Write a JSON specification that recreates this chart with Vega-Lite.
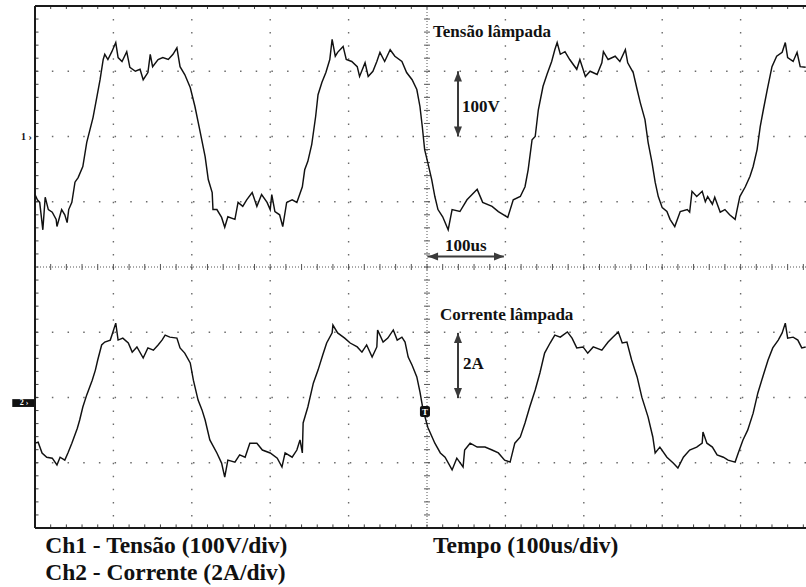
{
  "$schema": "https://vega.github.io/schema/vega-lite/v6.json",
  "width": 771,
  "height": 522,
  "autosize": {"type": "none"},
  "padding": {"left": 35, "top": 6, "right": 0, "bottom": 59},
  "background": "white",
  "config": {"view": {"stroke": null}},
  "resolve": {"scale": {"y": "independent"}},
  "data": {"values": [{}]},
  "datasets": {
    "ch1": [
      {"t":-500,"v":-89},{"t":-497,"v":-97},{"t":-494,"v":-101},{"t":-490,"v":-143},{"t":-487,"v":-93},{"t":-483,"v":-112},{"t":-478,"v":-116},{"t":-473,"v":-127},{"t":-472,"v":-138},{"t":-466,"v":-112},{"t":-462,"v":-120},{"t":-459,"v":-132},{"t":-457,"v":-112},{"t":-453,"v":-101},{"t":-449,"v":-70},{"t":-445,"v":-63},{"t":-439,"v":-46},{"t":-434,"v":-9},{"t":-426,"v":29},{"t":-421,"v":61},{"t":-417,"v":87},{"t":-413,"v":118},{"t":-411,"v":126},{"t":-407,"v":118},{"t":-402,"v":130},{"t":-397,"v":144},{"t":-394,"v":121},{"t":-389,"v":115},{"t":-383,"v":130},{"t":-379,"v":106},{"t":-372,"v":100},{"t":-366,"v":103},{"t":-362,"v":87},{"t":-356,"v":98},{"t":-353,"v":126},{"t":-350,"v":107},{"t":-343,"v":118},{"t":-337,"v":121},{"t":-330,"v":118},{"t":-324,"v":126},{"t":-319,"v":136},{"t":-315,"v":107},{"t":-309,"v":95},{"t":-302,"v":75},{"t":-296,"v":46},{"t":-290,"v":11},{"t":-283,"v":-31},{"t":-279,"v":-66},{"t":-274,"v":-86},{"t":-273,"v":-112},{"t":-268,"v":-112},{"t":-262,"v":-124},{"t":-258,"v":-139},{"t":-254,"v":-123},{"t":-245,"v":-127},{"t":-241,"v":-101},{"t":-235,"v":-107},{"t":-230,"v":-97},{"t":-223,"v":-86},{"t":-217,"v":-107},{"t":-211,"v":-89},{"t":-204,"v":-101},{"t":-200,"v":-112},{"t":-198,"v":-89},{"t":-194,"v":-115},{"t":-188,"v":-120},{"t":-184,"v":-138},{"t":-179,"v":-101},{"t":-172,"v":-97},{"t":-166,"v":-101},{"t":-159,"v":-77},{"t":-156,"v":-51},{"t":-152,"v":-38},{"t":-147,"v":-12},{"t":-142,"v":31},{"t":-139,"v":64},{"t":-134,"v":83},{"t":-129,"v":98},{"t":-124,"v":118},{"t":-121,"v":149},{"t":-117,"v":123},{"t":-114,"v":129},{"t":-107,"v":138},{"t":-103,"v":118},{"t":-96,"v":115},{"t":-89,"v":107},{"t":-86,"v":92},{"t":-79,"v":113},{"t":-75,"v":92},{"t":-69,"v":100},{"t":-64,"v":115},{"t":-60,"v":129},{"t":-54,"v":115},{"t":-47,"v":133},{"t":-41,"v":123},{"t":-32,"v":115},{"t":-26,"v":98},{"t":-19,"v":87},{"t":-13,"v":72},{"t":-9,"v":46},{"t":-6,"v":15},{"t":-3,"v":-20},{"t":1,"v":-40},{"t":6,"v":-66},{"t":10,"v":-92},{"t":14,"v":-112},{"t":20,"v":-123},{"t":27,"v":-143},{"t":32,"v":-112},{"t":42,"v":-115},{"t":51,"v":-97},{"t":64,"v":-81},{"t":71,"v":-101},{"t":83,"v":-107},{"t":91,"v":-115},{"t":103,"v":-124},{"t":110,"v":-97},{"t":119,"v":-92},{"t":125,"v":-77},{"t":129,"v":-51},{"t":134,"v":-5},{"t":138,"v":0},{"t":142,"v":41},{"t":148,"v":77},{"t":153,"v":95},{"t":159,"v":115},{"t":163,"v":133},{"t":166,"v":144},{"t":170,"v":126},{"t":176,"v":130},{"t":182,"v":118},{"t":191,"v":103},{"t":195,"v":118},{"t":202,"v":92},{"t":208,"v":100},{"t":217,"v":95},{"t":223,"v":113},{"t":225,"v":130},{"t":231,"v":118},{"t":240,"v":123},{"t":246,"v":115},{"t":253,"v":133},{"t":256,"v":113},{"t":263,"v":98},{"t":268,"v":72},{"t":272,"v":52},{"t":278,"v":26},{"t":282,"v":-9},{"t":287,"v":-40},{"t":291,"v":-70},{"t":295,"v":-92},{"t":300,"v":-109},{"t":306,"v":-115},{"t":310,"v":-127},{"t":316,"v":-138},{"t":323,"v":-115},{"t":332,"v":-112},{"t":335,"v":-116},{"t":338,"v":-84},{"t":344,"v":-92},{"t":351,"v":-84},{"t":355,"v":-100},{"t":358,"v":-92},{"t":364,"v":-104},{"t":367,"v":-93},{"t":374,"v":-116},{"t":380,"v":-112},{"t":386,"v":-120},{"t":393,"v":-127},{"t":395,"v":-115},{"t":399,"v":-92},{"t":406,"v":-77},{"t":412,"v":-61},{"t":416,"v":-46},{"t":421,"v":-20},{"t":425,"v":15},{"t":429,"v":41},{"t":434,"v":72},{"t":440,"v":107},{"t":446,"v":123},{"t":453,"v":129},{"t":457,"v":144},{"t":460,"v":121},{"t":467,"v":115},{"t":472,"v":129},{"t":476,"v":107},{"t":483,"v":106}
    ],
    "ch2": [
      {"t":-500,"i":-1.23},{"t":-496,"i":-1.20},{"t":-491,"i":-1.53},{"t":-485,"i":-1.66},{"t":-478,"i":-1.69},{"t":-472,"i":-1.90},{"t":-468,"i":-1.66},{"t":-462,"i":-1.75},{"t":-458,"i":-1.53},{"t":-453,"i":-1.23},{"t":-446,"i":-0.77},{"t":-443,"i":-0.52},{"t":-439,"i":-0.12},{"t":-434,"i":0.25},{"t":-427,"i":0.70},{"t":-423,"i":1.01},{"t":-420,"i":1.32},{"t":-415,"i":1.78},{"t":-411,"i":1.87},{"t":-404,"i":1.93},{"t":-401,"i":2.15},{"t":-397,"i":2.45},{"t":-394,"i":1.93},{"t":-388,"i":1.99},{"t":-381,"i":1.84},{"t":-376,"i":1.56},{"t":-370,"i":1.72},{"t":-362,"i":1.38},{"t":-356,"i":1.69},{"t":-349,"i":1.62},{"t":-343,"i":1.78},{"t":-338,"i":1.93},{"t":-334,"i":2.08},{"t":-328,"i":2.02},{"t":-319,"i":1.99},{"t":-315,"i":1.69},{"t":-309,"i":1.53},{"t":-302,"i":1.23},{"t":-298,"i":0.70},{"t":-292,"i":0.09},{"t":-287,"i":-0.21},{"t":-283,"i":-0.52},{"t":-277,"i":-1.13},{"t":-268,"i":-1.53},{"t":-262,"i":-1.84},{"t":-258,"i":-2.27},{"t":-254,"i":-1.75},{"t":-245,"i":-1.81},{"t":-239,"i":-1.59},{"t":-232,"i":-1.66},{"t":-226,"i":-1.23},{"t":-217,"i":-1.23},{"t":-210,"i":-1.44},{"t":-200,"i":-1.53},{"t":-191,"i":-1.69},{"t":-185,"i":-1.96},{"t":-181,"i":-1.53},{"t":-172,"i":-1.66},{"t":-166,"i":-1.44},{"t":-162,"i":-1.13},{"t":-159,"i":-1.53},{"t":-158,"i":-0.61},{"t":-152,"i":-0.12},{"t":-145,"i":0.61},{"t":-139,"i":1.01},{"t":-133,"i":1.47},{"t":-128,"i":1.84},{"t":-121,"i":2.15},{"t":-120,"i":2.39},{"t":-114,"i":2.15},{"t":-105,"i":1.99},{"t":-98,"i":1.84},{"t":-89,"i":1.72},{"t":-83,"i":1.56},{"t":-77,"i":1.78},{"t":-70,"i":1.41},{"t":-64,"i":1.72},{"t":-63,"i":2.24},{"t":-56,"i":1.87},{"t":-50,"i":1.99},{"t":-43,"i":2.24},{"t":-38,"i":1.93},{"t":-32,"i":2.02},{"t":-28,"i":1.87},{"t":-24,"i":1.41},{"t":-19,"i":1.16},{"t":-13,"i":0.80},{"t":-9,"i":0.34},{"t":-5,"i":-0.21},{"t":1,"i":-0.74},{"t":10,"i":-1.23},{"t":17,"i":-1.53},{"t":23,"i":-1.66},{"t":32,"i":-2.05},{"t":38,"i":-1.69},{"t":46,"i":-1.96},{"t":48,"i":-1.44},{"t":55,"i":-1.23},{"t":64,"i":-1.35},{"t":74,"i":-1.35},{"t":83,"i":-1.44},{"t":91,"i":-1.53},{"t":99,"i":-1.75},{"t":106,"i":-1.81},{"t":112,"i":-1.23},{"t":119,"i":-1.04},{"t":125,"i":-0.61},{"t":131,"i":-0.12},{"t":138,"i":0.40},{"t":144,"i":0.92},{"t":150,"i":1.53},{"t":157,"i":1.84},{"t":163,"i":2.08},{"t":170,"i":2.02},{"t":179,"i":2.18},{"t":185,"i":1.99},{"t":191,"i":1.69},{"t":199,"i":1.72},{"t":205,"i":1.53},{"t":212,"i":1.72},{"t":223,"i":1.62},{"t":231,"i":1.87},{"t":237,"i":2.02},{"t":244,"i":2.18},{"t":249,"i":1.84},{"t":255,"i":1.87},{"t":261,"i":1.32},{"t":268,"i":0.80},{"t":274,"i":0.18},{"t":282,"i":-0.43},{"t":288,"i":-1.04},{"t":291,"i":-1.53},{"t":297,"i":-1.35},{"t":306,"i":-1.66},{"t":314,"i":-1.84},{"t":320,"i":-1.99},{"t":327,"i":-1.66},{"t":335,"i":-1.44},{"t":344,"i":-1.35},{"t":351,"i":-1.23},{"t":352,"i":-0.89},{"t":357,"i":-1.23},{"t":364,"i":-1.35},{"t":370,"i":-1.59},{"t":378,"i":-1.66},{"t":384,"i":-1.75},{"t":393,"i":-1.81},{"t":397,"i":-1.53},{"t":403,"i":-1.13},{"t":409,"i":-0.83},{"t":416,"i":-0.31},{"t":422,"i":0.31},{"t":429,"i":0.86},{"t":435,"i":1.32},{"t":441,"i":1.69},{"t":448,"i":1.93},{"t":453,"i":2.15},{"t":457,"i":2.45},{"t":460,"i":1.99},{"t":467,"i":2.02},{"t":473,"i":1.93},{"t":478,"i":1.69},{"t":483,"i":1.72}
    ],
    "timeDivs": [{"t":-400},{"t":-300},{"t":-200},{"t":-100},{"t":100},{"t":200},{"t":300},{"t":400}],
    "voltDivs": [{"v":-500},{"v":-400},{"v":-300},{"v":-100},{"v":0},{"v":100}],
    "timeMinor": [{"t":-500},{"t":-480},{"t":-460},{"t":-440},{"t":-420},{"t":-400},{"t":-380},{"t":-360},{"t":-340},{"t":-320},{"t":-300},{"t":-280},{"t":-260},{"t":-240},{"t":-220},{"t":-200},{"t":-180},{"t":-160},{"t":-140},{"t":-120},{"t":-100},{"t":-80},{"t":-60},{"t":-40},{"t":-20},{"t":0},{"t":20},{"t":40},{"t":60},{"t":80},{"t":100},{"t":120},{"t":140},{"t":160},{"t":180},{"t":200},{"t":220},{"t":240},{"t":260},{"t":280},{"t":300},{"t":320},{"t":340},{"t":360},{"t":380},{"t":400},{"t":420},{"t":440},{"t":460},{"t":480}],
    "voltMinor": [{"v":-600},{"v":-580},{"v":-560},{"v":-540},{"v":-520},{"v":-500},{"v":-480},{"v":-460},{"v":-440},{"v":-420},{"v":-400},{"v":-380},{"v":-360},{"v":-340},{"v":-320},{"v":-300},{"v":-280},{"v":-260},{"v":-240},{"v":-220},{"v":-200},{"v":-180},{"v":-160},{"v":-140},{"v":-120},{"v":-100},{"v":-80},{"v":-60},{"v":-40},{"v":-20},{"v":0},{"v":20},{"v":40},{"v":60},{"v":80},{"v":100},{"v":120},{"v":140},{"v":160},{"v":180},{"v":200}]
  },
  "layer": [
    {
      "data": {"name": "timeDivs"},
      "mark": {"type": "rule", "color": "#6a6a6a", "strokeWidth": 1.4, "strokeDash": [1.5, 11.55]},
      "encoding": {"x": {"field": "t", "type": "quantitative", "scale": {"domain": [-500, 483.4], "nice": false, "zero": false}, "axis": null}}
    },
    {
      "data": {"name": "voltDivs"},
      "mark": {"type": "rule", "color": "#6a6a6a", "strokeWidth": 1.4, "strokeDash": [1.5, 14.18]},
      "encoding": {"y": {"field": "v", "type": "quantitative", "scale": {"domain": [-600, 200], "nice": false, "zero": false}, "axis": null}}
    },
    {
      "mark": {"type": "rule", "color": "#555", "strokeWidth": 1, "strokeDash": [1, 2]},
      "encoding": {"x": {"datum": 0, "type": "quantitative", "scale": {"domain": [-500, 483.4], "nice": false, "zero": false}, "axis": null}}
    },
    {
      "mark": {"type": "rule", "color": "#555", "strokeWidth": 1, "strokeDash": [1, 2]},
      "encoding": {"y": {"datum": -200, "type": "quantitative", "scale": {"domain": [-600, 200], "nice": false, "zero": false}, "axis": null}}
    },
    {
      "data": {"name": "timeMinor"},
      "mark": {"type": "rule", "color": "#444", "strokeWidth": 1},
      "encoding": {
        "x": {"field": "t", "type": "quantitative", "scale": {"domain": [-500, 483.4], "nice": false, "zero": false}, "axis": null},
        "y": {"datum": 200, "type": "quantitative", "scale": {"domain": [-600, 200], "nice": false, "zero": false}, "axis": null},
        "y2": {"datum": 195.4}
      }
    },
    {
      "data": {"name": "timeMinor"},
      "mark": {"type": "rule", "color": "#444", "strokeWidth": 1},
      "encoding": {
        "x": {"field": "t", "type": "quantitative", "scale": {"domain": [-500, 483.4], "nice": false, "zero": false}, "axis": null},
        "y": {"datum": -600, "type": "quantitative", "scale": {"domain": [-600, 200], "nice": false, "zero": false}, "axis": null},
        "y2": {"datum": -594.5}
      }
    },
    {
      "data": {"name": "timeMinor"},
      "mark": {"type": "rule", "color": "#555", "strokeWidth": 1},
      "encoding": {
        "x": {"field": "t", "type": "quantitative", "scale": {"domain": [-500, 483.4], "nice": false, "zero": false}, "axis": null},
        "y": {"datum": -204.6, "type": "quantitative", "scale": {"domain": [-600, 200], "nice": false, "zero": false}, "axis": null},
        "y2": {"datum": -195.4}
      }
    },
    {
      "data": {"name": "voltMinor"},
      "mark": {"type": "rule", "color": "#444", "strokeWidth": 1},
      "encoding": {
        "x": {"datum": -500, "type": "quantitative", "scale": {"domain": [-500, 483.4], "nice": false, "zero": false}, "axis": null},
        "x2": {"datum": -495.5},
        "y": {"field": "v", "type": "quantitative", "scale": {"domain": [-600, 200], "nice": false, "zero": false}, "axis": null}
      }
    },
    {
      "data": {"name": "voltMinor"},
      "mark": {"type": "rule", "color": "#555", "strokeWidth": 1},
      "encoding": {
        "x": {"datum": -3.8, "type": "quantitative", "scale": {"domain": [-500, 483.4], "nice": false, "zero": false}, "axis": null},
        "x2": {"datum": 3.8},
        "y": {"field": "v", "type": "quantitative", "scale": {"domain": [-600, 200], "nice": false, "zero": false}, "axis": null}
      }
    },
    {
      "mark": {"type": "rule", "color": "#1a1a1a", "strokeWidth": 2},
      "encoding": {"x": {"datum": -500, "type": "quantitative", "scale": {"domain": [-500, 483.4], "nice": false, "zero": false}, "axis": null}}
    },
    {
      "mark": {"type": "rule", "color": "#1a1a1a", "strokeWidth": 2},
      "encoding": {"y": {"datum": 200, "type": "quantitative", "scale": {"domain": [-600, 200], "nice": false, "zero": false}, "axis": null}}
    },
    {
      "mark": {"type": "rule", "color": "#1a1a1a", "strokeWidth": 2},
      "encoding": {"y": {"datum": -600, "type": "quantitative", "scale": {"domain": [-600, 200], "nice": false, "zero": false}, "axis": null}}
    },
    {
      "data": {"name": "ch1"},
      "mark": {"type": "line", "color": "#111", "strokeWidth": 1.45, "strokeJoin": "miter"},
      "encoding": {
        "x": {"field": "t", "type": "quantitative", "scale": {"domain": [-500, 483.4], "nice": false, "zero": false}, "axis": null},
        "y": {"field": "v", "type": "quantitative", "scale": {"domain": [-600, 200], "nice": false, "zero": false}, "axis": null}
      }
    },
    {
      "data": {"name": "ch2"},
      "mark": {"type": "line", "color": "#111", "strokeWidth": 1.45, "strokeJoin": "miter"},
      "encoding": {
        "x": {"field": "t", "type": "quantitative", "scale": {"domain": [-500, 483.4], "nice": false, "zero": false}, "axis": null},
        "y": {"field": "i", "type": "quantitative", "scale": {"domain": [-3.83, 12.17], "nice": false, "zero": false}, "axis": null}
      }
    },
    {
      "mark": {"type": "rule", "color": "#3a3a3a", "strokeWidth": 2},
      "encoding": {
        "x": {"datum": 39.5, "type": "quantitative", "scale": {"domain": [-500, 483.4], "nice": false, "zero": false}, "axis": null},
        "y": {"datum": 0, "type": "quantitative", "scale": {"domain": [-600, 200], "nice": false, "zero": false}, "axis": null},
        "y2": {"datum": 100}
      }
    },
    {
      "mark": {"type": "point", "shape": "M0,-1L-0.8,1L0.8,1Z", "size": 100, "filled": true, "color": "#3a3a3a", "opacity": 1},
      "encoding": {
        "x": {"datum": 39.5, "type": "quantitative", "scale": {"domain": [-500, 483.4], "nice": false, "zero": false}, "axis": null},
        "y": {"datum": 92, "type": "quantitative", "scale": {"domain": [-600, 200], "nice": false, "zero": false}, "axis": null}
      }
    },
    {
      "mark": {"type": "point", "shape": "M0,1L-0.8,-1L0.8,-1Z", "size": 100, "filled": true, "color": "#3a3a3a", "opacity": 1},
      "encoding": {
        "x": {"datum": 39.5, "type": "quantitative", "scale": {"domain": [-500, 483.4], "nice": false, "zero": false}, "axis": null},
        "y": {"datum": 7.7, "type": "quantitative", "scale": {"domain": [-600, 200], "nice": false, "zero": false}, "axis": null}
      }
    },
    {
      "mark": {"type": "rule", "color": "#3a3a3a", "strokeWidth": 2},
      "encoding": {
        "x": {"datum": 0.5, "type": "quantitative", "scale": {"domain": [-500, 483.4], "nice": false, "zero": false}, "axis": null},
        "x2": {"datum": 98},
        "y": {"datum": -184, "type": "quantitative", "scale": {"domain": [-600, 200], "nice": false, "zero": false}, "axis": null}
      }
    },
    {
      "mark": {"type": "point", "shape": "M-1,0L1,-0.8L1,0.8Z", "size": 100, "filled": true, "color": "#3a3a3a", "opacity": 1},
      "encoding": {
        "x": {"datum": 7.7, "type": "quantitative", "scale": {"domain": [-500, 483.4], "nice": false, "zero": false}, "axis": null},
        "y": {"datum": -184, "type": "quantitative", "scale": {"domain": [-600, 200], "nice": false, "zero": false}, "axis": null}
      }
    },
    {
      "mark": {"type": "point", "shape": "M1,0L-1,-0.8L-1,0.8Z", "size": 100, "filled": true, "color": "#3a3a3a", "opacity": 1},
      "encoding": {
        "x": {"datum": 91.8, "type": "quantitative", "scale": {"domain": [-500, 483.4], "nice": false, "zero": false}, "axis": null},
        "y": {"datum": -184, "type": "quantitative", "scale": {"domain": [-600, 200], "nice": false, "zero": false}, "axis": null}
      }
    },
    {
      "mark": {"type": "rule", "color": "#3a3a3a", "strokeWidth": 2},
      "encoding": {
        "x": {"datum": 39.5, "type": "quantitative", "scale": {"domain": [-500, 483.4], "nice": false, "zero": false}, "axis": null},
        "y": {"datum": 0.15, "type": "quantitative", "scale": {"domain": [-3.83, 12.17], "nice": false, "zero": false}, "axis": null},
        "y2": {"datum": 2.15}
      }
    },
    {
      "mark": {"type": "point", "shape": "M0,-1L-0.8,1L0.8,1Z", "size": 100, "filled": true, "color": "#3a3a3a", "opacity": 1},
      "encoding": {
        "x": {"datum": 39.5, "type": "quantitative", "scale": {"domain": [-500, 483.4], "nice": false, "zero": false}, "axis": null},
        "y": {"datum": 1.99, "type": "quantitative", "scale": {"domain": [-3.83, 12.17], "nice": false, "zero": false}, "axis": null}
      }
    },
    {
      "mark": {"type": "point", "shape": "M0,1L-0.8,-1L0.8,-1Z", "size": 100, "filled": true, "color": "#3a3a3a", "opacity": 1},
      "encoding": {
        "x": {"datum": 39.5, "type": "quantitative", "scale": {"domain": [-500, 483.4], "nice": false, "zero": false}, "axis": null},
        "y": {"datum": 0.31, "type": "quantitative", "scale": {"domain": [-3.83, 12.17], "nice": false, "zero": false}, "axis": null}
      }
    },
    {
      "mark": {"type": "text", "font": "Liberation Serif", "fontWeight": "bold", "fontSize": 17, "align": "left", "baseline": "alphabetic", "color": "#111"},
      "encoding": {
        "x": {"datum": 7.7, "type": "quantitative", "scale": {"domain": [-500, 483.4], "nice": false, "zero": false}, "axis": null},
        "y": {"datum": 153, "type": "quantitative", "scale": {"domain": [-600, 200], "nice": false, "zero": false}, "axis": null},
        "text": {"value": "Tensão lâmpada"}
      }
    },
    {
      "mark": {"type": "text", "font": "Liberation Serif", "fontWeight": "bold", "fontSize": 17, "align": "left", "baseline": "alphabetic", "color": "#111"},
      "encoding": {
        "x": {"datum": 44.6, "type": "quantitative", "scale": {"domain": [-500, 483.4], "nice": false, "zero": false}, "axis": null},
        "y": {"datum": 38, "type": "quantitative", "scale": {"domain": [-600, 200], "nice": false, "zero": false}, "axis": null},
        "text": {"value": "100V"}
      }
    },
    {
      "mark": {"type": "text", "font": "Liberation Serif", "fontWeight": "bold", "fontSize": 17, "align": "left", "baseline": "alphabetic", "color": "#111"},
      "encoding": {
        "x": {"datum": 23, "type": "quantitative", "scale": {"domain": [-500, 483.4], "nice": false, "zero": false}, "axis": null},
        "y": {"datum": -176, "type": "quantitative", "scale": {"domain": [-600, 200], "nice": false, "zero": false}, "axis": null},
        "text": {"value": "100us"}
      }
    },
    {
      "mark": {"type": "text", "font": "Liberation Serif", "fontWeight": "bold", "fontSize": 17, "align": "left", "baseline": "alphabetic", "color": "#111"},
      "encoding": {
        "x": {"datum": 16.6, "type": "quantitative", "scale": {"domain": [-500, 483.4], "nice": false, "zero": false}, "axis": null},
        "y": {"datum": 2.54, "type": "quantitative", "scale": {"domain": [-3.83, 12.17], "nice": false, "zero": false}, "axis": null},
        "text": {"value": "Corrente lâmpada"}
      }
    },
    {
      "mark": {"type": "text", "font": "Liberation Serif", "fontWeight": "bold", "fontSize": 17, "align": "left", "baseline": "alphabetic", "color": "#111"},
      "encoding": {
        "x": {"datum": 45.9, "type": "quantitative", "scale": {"domain": [-500, 483.4], "nice": false, "zero": false}, "axis": null},
        "y": {"datum": 1.04, "type": "quantitative", "scale": {"domain": [-3.83, 12.17], "nice": false, "zero": false}, "axis": null},
        "text": {"value": "2A"}
      }
    },
    {
      "mark": {"type": "text", "font": "Liberation Serif", "fontWeight": "bold", "fontSize": 23.5, "align": "left", "baseline": "alphabetic", "color": "#111"},
      "encoding": {
        "x": {"datum": -487, "type": "quantitative", "scale": {"domain": [-500, 483.4], "nice": false, "zero": false}, "axis": null},
        "y": {"datum": -637.6, "type": "quantitative", "scale": {"domain": [-600, 200], "nice": false, "zero": false}, "axis": null},
        "text": {"value": "Ch1 - Tensão (100V/div)"}
      }
    },
    {
      "mark": {"type": "text", "font": "Liberation Serif", "fontWeight": "bold", "fontSize": 23.5, "align": "left", "baseline": "alphabetic", "color": "#111"},
      "encoding": {
        "x": {"datum": -487, "type": "quantitative", "scale": {"domain": [-500, 483.4], "nice": false, "zero": false}, "axis": null},
        "y": {"datum": -679, "type": "quantitative", "scale": {"domain": [-600, 200], "nice": false, "zero": false}, "axis": null},
        "text": {"value": "Ch2 - Corrente (2A/div)"}
      }
    },
    {
      "mark": {"type": "text", "font": "Liberation Serif", "fontWeight": "bold", "fontSize": 23.5, "align": "left", "baseline": "alphabetic", "color": "#111"},
      "encoding": {
        "x": {"datum": 7.7, "type": "quantitative", "scale": {"domain": [-500, 483.4], "nice": false, "zero": false}, "axis": null},
        "y": {"datum": -637.6, "type": "quantitative", "scale": {"domain": [-600, 200], "nice": false, "zero": false}, "axis": null},
        "text": {"value": "Tempo (100us/div)"}
      }
    },
    {
      "mark": {"type": "text", "font": "Liberation Serif", "fontWeight": "bold", "fontSize": 10, "align": "right", "baseline": "middle", "color": "#111"},
      "encoding": {
        "x": {"datum": -504, "type": "quantitative", "scale": {"domain": [-500, 483.4], "nice": false, "zero": false}, "axis": null},
        "y": {"datum": 0, "type": "quantitative", "scale": {"domain": [-600, 200], "nice": false, "zero": false}, "axis": null},
        "text": {"value": "1 ›"}
      }
    },
    {
      "mark": {"type": "rect", "color": "#111"},
      "encoding": {
        "x": {"datum": -529, "type": "quantitative", "scale": {"domain": [-500, 483.4], "nice": false, "zero": false}, "axis": null},
        "x2": {"datum": -501},
        "y": {"datum": 0.12, "type": "quantitative", "scale": {"domain": [-3.83, 12.17], "nice": false, "zero": false}, "axis": null},
        "y2": {"datum": -0.12}
      }
    },
    {
      "mark": {"type": "text", "font": "Liberation Serif", "fontWeight": "bold", "fontSize": 8, "align": "center", "baseline": "middle", "color": "white"},
      "encoding": {
        "x": {"datum": -514, "type": "quantitative", "scale": {"domain": [-500, 483.4], "nice": false, "zero": false}, "axis": null},
        "y": {"datum": 0, "type": "quantitative", "scale": {"domain": [-3.83, 12.17], "nice": false, "zero": false}, "axis": null},
        "text": {"value": "2 ›"}
      }
    },
    {
      "mark": {"type": "rect", "color": "#111", "cornerRadius": 2},
      "encoding": {
        "x": {"datum": -9, "type": "quantitative", "scale": {"domain": [-500, 483.4], "nice": false, "zero": false}, "axis": null},
        "x2": {"datum": 3.8},
        "y": {"datum": -0.09, "type": "quantitative", "scale": {"domain": [-3.83, 12.17], "nice": false, "zero": false}, "axis": null},
        "y2": {"datum": -0.43}
      }
    },
    {
      "mark": {"type": "text", "font": "Liberation Serif", "fontWeight": "bold", "fontSize": 9, "align": "center", "baseline": "middle", "color": "white"},
      "encoding": {
        "x": {"datum": -2.6, "type": "quantitative", "scale": {"domain": [-500, 483.4], "nice": false, "zero": false}, "axis": null},
        "y": {"datum": -0.26, "type": "quantitative", "scale": {"domain": [-3.83, 12.17], "nice": false, "zero": false}, "axis": null},
        "text": {"value": "T"}
      }
    }
  ]
}
